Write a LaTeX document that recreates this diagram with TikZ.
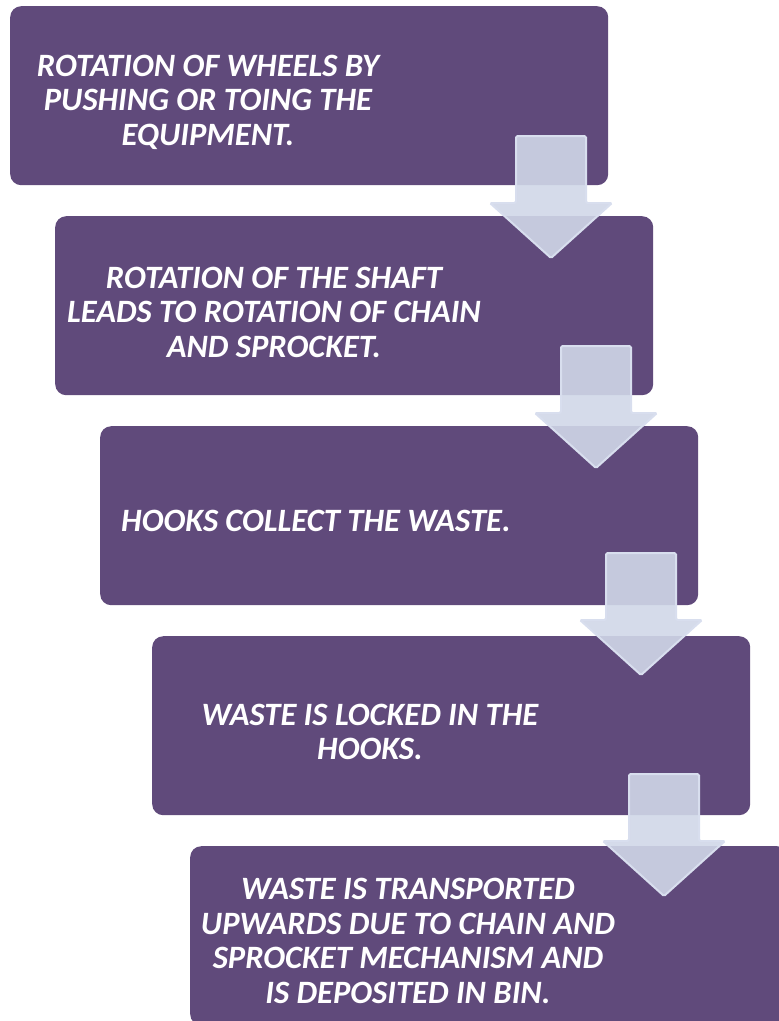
\documentclass[tikz,border=0pt]{standalone}
\usepackage{fontspec}
\setmainfont{Carlito}
\usetikzlibrary{positioning}
\definecolor{stepPurple}{HTML}{604A7B}
\definecolor{arrowFill}{HTML}{D0D7E8}
\definecolor{arrowLine}{HTML}{D8DEEE}
\tikzset {
    step box/.style = {
        rectangle, rounded corners = 11pt, fill = stepPurple,
        minimum width = 598pt, minimum height = 179pt,
        inner sep = 0pt, anchor = north west
    },
    step text/.style = {
        text = white, align = center, inner sep = 0pt,
        font = \fontsize{32.6}{34.5}\selectfont\bfseries\itshape
    },
    %
    down arrow/.pic = {
        \draw [arrowLine, fill = arrowFill, fill opacity = 0.9,
               line width = 2pt, rounded corners = 1.5pt]
            (-35, 0) -- (35, 0) -- (35, 67) -- (61, 67) -- (0, 122)
            -- (-61, 67) -- (-35, 67) -- cycle;
    }
}

\begin{document}
\begin{tikzpicture}[x = 1pt, y = -1pt]
    \useasboundingbox (0, 0) rectangle (779, 1021);
    \clip (0, 0) rectangle (779, 1021);
    % boxes
    \node (box1) [step box] at (10, 6) {};
    \node (box2) [step box] at (55, 216) {};
    \node (box3) [step box] at (100, 426) {};
    \node (box4) [step box] at (152, 636) {};
    \node (box5) [step box] at (190, 846) {};
    % texts
    \node (text1) [step text] at (208, 102)
        {ROTATION OF WHEELS BY\\PUSHING OR TOING THE\\EQUIPMENT.};
    \node (text2) [step text] at (274, 312)
        {ROTATION OF THE SHAFT\\LEADS TO ROTATION OF CHAIN\\AND SPROCKET.};
    \node (text3) [step text] at (316, 521) {HOOKS COLLECT THE WASTE.};
    \node (text4) [step text] at (370, 732) {WASTE IS LOCKED IN THE\\HOOKS.};
    \node (text5) [step text] at (408, 941)
        {WASTE IS TRANSPORTED\\UPWARDS DUE TO CHAIN AND\\SPROCKET MECHANISM AND\\IS DEPOSITED IN BIN.};
    % arrows
    \foreach \ax/\ay in {551/136, 596/346, 641/553, 664/774}
        \pic at (\ax, \ay) {down arrow};
\end{tikzpicture}
\end{document}
